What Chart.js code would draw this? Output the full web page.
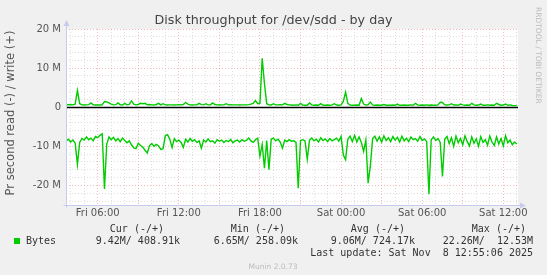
<!DOCTYPE html>
<html>
<head>
<meta charset="utf-8">
<title>Disk throughput for /dev/sdd - by day</title>
<script src="https://cdn.jsdelivr.net/npm/chart.js@4.4.1/dist/chart.umd.min.js"></script>
<style>
  html, body { margin: 0; padding: 0; background: #f0f0f0; }
  canvas { display: block; }
</style>
</head>
<body>
<canvas id="chart" width="547" height="275"></canvas>
<script>
/* -----------------------------------------------------------------
   DATA — one point every 10 minutes, Fri 03:40 → Sat 13:00 (values in M)
   ----------------------------------------------------------------- */
const START_HOUR = 3.667;      // hours since Fri 00:00
const STEP_HOURS = 1 / 6;

const writeBytes = [
  0.7, 0.65, 0.7, 0.6, 0.75, 4.3, 0.9, 0.6, 0.55, 0.6, 0.65, 1.1, 0.6, 0.55, 0.6, 0.55, 0.6,
  1.45, 1.35, 1.1, 0.8, 0.6, 0.65, 1.1, 0.6, 0.55, 1.0, 0.6, 0.7, 1.6, 0.8, 0.6, 0.7, 1.0, 0.9, 1.0,
  0.6, 0.7, 0.6, 0.55, 0.7, 1.0, 0.6, 0.9, 0.6, 0.55, 0.6, 0.6, 0.55, 0.6, 0.65, 0.6, 0.7,
  1.2, 0.8, 0.6, 0.55, 0.6, 0.6, 1.0, 0.65, 0.6, 0.9, 0.6, 0.6, 1.1, 0.7, 0.6, 0.55, 0.6, 0.6, 0.9, 0.6,
  0.65, 0.6, 0.6, 0.6, 0.55, 0.6, 0.6, 0.6, 0.65, 0.8, 1.0, 1.7, 0.9, 1.0, 12.53, 6.0, 0.9,
  0.6, 0.55, 0.9, 0.6, 0.6, 0.65, 0.6, 1.0, 0.7, 0.6, 0.55, 0.5, 0.6, 0.5, 1.0, 0.55, 0.5, 0.5, 1.1, 0.6,
  0.5, 0.55, 0.5, 0.9, 0.5, 0.5, 0.55, 0.5, 0.6, 0.9, 0.55, 0.5, 0.6, 1.5, 3.86, 1.0, 0.55,
  0.5, 0.5, 0.55, 0.5, 2.2, 0.8, 0.55, 0.6, 1.3, 0.6,
  0.5, 0.55, 0.5, 0.5, 0.7, 0.5, 0.5, 0.5, 0.55, 0.5, 0.8, 0.5, 0.5, 0.55, 0.5, 0.5, 0.6, 0.5,
  1.0, 0.6, 0.5, 0.55, 0.5, 0.6, 0.5, 0.55, 0.5, 0.5, 0.6, 1.28, 1.2, 0.6,
  0.55, 0.6, 0.9, 0.55, 0.6, 0.5, 0.8, 0.6, 0.5, 0.55, 0.5, 1.0, 0.6,
  0.5, 0.55, 0.8, 0.5, 0.5, 0.6, 0.5, 0.55, 0.5, 1.0, 0.7, 0.5, 0.55, 0.8, 0.5, 0.6, 0.45, 0.4, 0.41,
];

const readBytes = [
  -8.6, -8.2, -8.9, -8.4, -9.2, -14.6, -9.0, -8.0, -8.4, -7.6, -8.3, -7.9, -8.6, -7.5, -7.8, -7.2,
  -6.8, -20.9, -9.5, -7.6, -8.3, -7.7, -8.6, -8.0, -8.8, -7.9, -8.5, -9.1, -8.6, -9.6,
  -10.4, -10.6, -9.2, -9.8, -10.2, -11.0, -11.7, -9.8, -9.3, -10.0, -9.5, -9.9, -10.8, -10.6,
  -7.3, -7.0, -8.2, -10.3, -8.0, -8.8, -8.4, -9.0, -10.3, -8.2, -8.9, -8.0, -8.7, -8.3, -9.0, -8.6, -10.5,
  -8.4, -8.9, -8.1, -8.8, -8.6, -9.2, -8.3, -8.7, -8.4, -9.0, -8.5, -8.8, -8.2, -9.1, -8.6, -8.4, -8.9, -8.3, -8.7, -8.5,
  -7.9, -8.6, -9.0, -8.3, -7.9, -12.5, -9.5, -15.6, -8.5, -16.0, -8.2,
  -7.9, -8.6, -8.2, -8.9, -10.5, -8.4, -8.8, -8.3, -8.7, -8.6, -9.0, -20.7, -8.5, -8.3, -8.6, -13.3, -8.4,
  -7.9, -8.6, -8.2, -8.9, -7.8, -8.5, -8.1, -8.8, -8.0, -8.6, -8.3, -7.9, -8.7,
  -7.5, -12.2, -13.4, -8.2, -7.4, -8.8, -7.2, -8.9, -7.6, -9.0, -11.3, -8.4, -19.4, -15.0, -8.0,
  -7.4, -8.7, -7.6, -8.9, -7.3, -8.5, -7.8, -8.8, -7.5, -8.4, -7.7, -8.9, -7.4, -8.6, -7.9, -8.8,
  -7.6, -8.3, -8.0, -8.7, -7.5, -8.5, -8.1, -8.8, -22.26, -8.3,
  -7.6, -8.5, -8.0, -9.0, -17.7, -8.2,
  -7.5, -9.3, -7.8, -10.0, -7.4, -9.1, -8.0, -9.6, -7.3, -8.8, -9.9, -7.6, -9.2, -8.1, -10.0, -7.5,
  -9.0, -8.3, -9.7, -7.4, -8.9, -9.8, -7.6, -9.4, -8.0, -9.9, -7.3, -9.1, -8.4, -9.6, -8.9, -9.42,
];

const xTickHours = [6, 12, 18, 24, 30, 36];
const xTickLabels = ["Fri 06:00", "Fri 12:00", "Fri 18:00", "Sat 00:00", "Sat 06:00", "Sat 12:00"];
const yTickValues = [20, 10, 0, -10, -20];
const yTickLabels = ["20 M", "10 M", "0", "-10 M", "-20 M"];

const legendHeaders = ["Cur (-/+)", "Min (-/+)", "Avg (-/+)", "Max (-/+)"];
const legendValues = ["9.42M/ 408.91k", "6.65M/ 258.09k", "9.06M/ 724.17k", "22.26M/  12.53M"];

/* -----------------------------------------------------------------
   STYLE
   ----------------------------------------------------------------- */
const COLORS = {
  back: "#f0f0f0",
  canvas: "#ffffff",
  line: "#00cc00",
  grid: "rgba(190,190,190,0.5)",
  mgrid: "rgba(240,130,130,0.55)",
  axis: "#c6cbf0",
  text: "#555555",
  legend: "#333333",
  faint: "#bbbbbb",
};
const SANS = "'DejaVu Sans', sans-serif";
const MONO = "'DejaVu Sans Mono', monospace";

function toPoints(values) {
  return values.map((v, i) => ({ x: START_HOUR + i * STEP_HOURS, y: v }));
}

/* -----------------------------------------------------------------
   PLUGIN — backgrounds, zero line, axes, all text
   ----------------------------------------------------------------- */
const muninFrame = {
  id: "muninFrame",
  beforeDraw(chart) {
    const { ctx, chartArea: a } = chart;
    ctx.save();
    ctx.fillStyle = COLORS.back;
    ctx.fillRect(0, 0, chart.width, chart.height);
    ctx.fillStyle = COLORS.canvas;
    ctx.fillRect(a.left, a.top, a.right - a.left, a.bottom - a.top);
    ctx.restore();
  },
  beforeDatasetsDraw(chart) {
    const { ctx, chartArea: a, scales } = chart;
    const y0 = Math.round(scales.y.getPixelForValue(0)) + 0.5;
    ctx.save();
    ctx.strokeStyle = "#000000";
    ctx.lineWidth = 1.4;
    ctx.beginPath();
    ctx.moveTo(a.left, y0);
    ctx.lineTo(a.right, y0);
    ctx.stroke();
    ctx.restore();
  },
  afterDraw(chart) {
    const { ctx, chartArea: a, scales } = chart;
    ctx.save();

    // axes with arrows
    ctx.strokeStyle = COLORS.axis;
    ctx.fillStyle = COLORS.axis;
    ctx.lineWidth = 1;
    const ax = Math.round(a.left) + 0.5;
    const ay = Math.round(a.bottom) + 0.5;
    ctx.beginPath();
    ctx.moveTo(ax, ay + 2);
    ctx.lineTo(ax, a.top - 4);
    ctx.moveTo(ax - 3, ay);
    ctx.lineTo(a.right + 3, ay);
    ctx.stroke();
    ctx.beginPath();
    ctx.moveTo(ax - 3, a.top - 3);
    ctx.lineTo(ax + 3, a.top - 3);
    ctx.lineTo(ax, a.top - 9);
    ctx.closePath();
    ctx.fill();
    ctx.beginPath();
    ctx.moveTo(a.right + 2, ay - 3);
    ctx.lineTo(a.right + 2, ay + 3);
    ctx.lineTo(a.right + 8, ay);
    ctx.closePath();
    ctx.fill();

    // title
    ctx.fillStyle = "#444444";
    ctx.font = "12.7px " + SANS;
    ctx.textAlign = "center";
    ctx.textBaseline = "alphabetic";
    ctx.fillText("Disk throughput for /dev/sdd - by day", chart.width / 2, 24);

    // y ticks
    ctx.fillStyle = COLORS.text;
    ctx.font = "10px " + SANS;
    ctx.textAlign = "right";
    ctx.textBaseline = "middle";
    yTickValues.forEach((v, i) => {
      ctx.fillText(yTickLabels[i], a.left - 5, scales.y.getPixelForValue(v));
    });

    // x ticks
    ctx.textAlign = "center";
    xTickHours.forEach((h, i) => {
      ctx.fillText(xTickLabels[i], scales.x.getPixelForValue(h), 213);
    });

    // vertical axis title
    ctx.save();
    ctx.translate(11, 113);
    ctx.rotate(-Math.PI / 2);
    ctx.font = "11.5px " + SANS;
    ctx.fillText("Pr second read (-) / write (+)", 0, 0);
    ctx.restore();

    // rrdtool watermark
    ctx.save();
    ctx.translate(537.5, 7);
    ctx.rotate(Math.PI / 2);
    ctx.fillStyle = COLORS.faint;
    ctx.font = "7.5px " + SANS;
    ctx.textAlign = "left";
    ctx.fillText("RRDTOOL / TOBI OETIKER", 0, 0);
    ctx.restore();

    // legend
    ctx.fillStyle = COLORS.line;
    ctx.fillRect(14, 238, 6, 6);
    ctx.fillStyle = COLORS.legend;
    ctx.font = "10px " + MONO;
    ctx.textAlign = "left";
    ctx.fillText("Bytes", 26, 241.5);
    ctx.textAlign = "right";
    const headerRight = [164, 285, 405, 526];
    const valueRight = [180, 298, 415, 533];
    legendHeaders.forEach((t, i) => ctx.fillText(t, headerRight[i], 229));
    legendValues.forEach((t, i) => ctx.fillText(t, valueRight[i], 241.5));
    ctx.fillText("Last update: Sat Nov  8 12:55:06 2025", 533, 253.5);

    ctx.fillStyle = COLORS.faint;
    ctx.font = "7.5px " + SANS;
    ctx.textAlign = "center";
    ctx.fillText("Munin 2.0.73", 273, 267.5);

    ctx.restore();
  },
};

/* -----------------------------------------------------------------
   CHART
   ----------------------------------------------------------------- */
function lineDataset(label, values) {
  return {
    label,
    data: toPoints(values),
    borderColor: COLORS.line,
    borderWidth: 1.4,
    pointRadius: 0,
    tension: 0,
    fill: false,
  };
}

new Chart(document.getElementById("chart"), {
  type: "line",
  data: {
    datasets: [lineDataset("write", writeBytes), lineDataset("read", readBytes)],
  },
  options: {
    responsive: false,
    animation: false,
    devicePixelRatio: 1,
    layout: { padding: { left: 66, right: 29, top: 29, bottom: 70 } },
    plugins: { legend: { display: false }, tooltip: { enabled: false }, title: { display: false } },
    scales: {
      x: {
        type: "linear",
        min: 3.655,
        max: 37.087,
        afterBuildTicks: (scale) => {
          const ticks = [];
          for (let h = 4; h <= 37; h++) ticks.push({ value: h });
          scale.ticks = ticks;
        },
        ticks: { display: false },
        grid: {
          drawTicks: false,
          lineWidth: 1,
          color: (c) => (c.tick && c.tick.value % 3 === 0 ? COLORS.mgrid : COLORS.grid),
        },
        border: { display: false, dash: [1, 2] },
      },
      y: {
        type: "linear",
        min: -25,
        max: 20,
        afterBuildTicks: (scale) => {
          const ticks = [];
          for (let v = -24; v <= 20; v += 2) ticks.push({ value: v });
          scale.ticks = ticks;
        },
        ticks: { display: false },
        grid: {
          drawTicks: false,
          lineWidth: 1,
          color: (c) => {
            const v = c.tick ? c.tick.value : 1;
            if (v === 0) return "rgba(0,0,0,0)";
            return v % 10 === 0 ? COLORS.mgrid : COLORS.grid;
          },
        },
        border: { display: false, dash: [1, 2] },
      },
    },
  },
  plugins: [muninFrame],
});
</script>
</body>
</html>
